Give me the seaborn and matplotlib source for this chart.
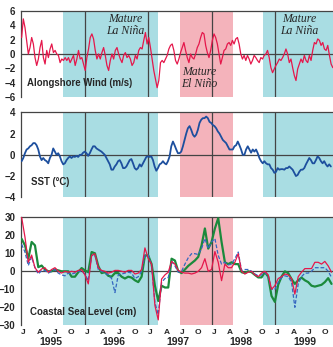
import numpy as np
import pandas as pd
import matplotlib
matplotlib.use("Agg")
import matplotlib.pyplot as plt
import matplotlib.transforms as mtransforms
import seaborn as sns

# alongshore wind (m/s), ~9-day samples, Jan 1995 -> Nov 1999
wind = [2.3, 4.9, 3.7, 1.9, 0.0, 0.9, 2.3, 1.4, -0.5, -1.6,
        -0.7, 0.9, 1.9, -0.5, -1.4, 0.5, -0.5, 0.7, 1.4, 0.2,
        0.5, 0.0, -0.2, -1.2, -0.7, -0.9, -0.5, -0.9, -0.5, -1.2,
        -0.7, -0.2, -1.6, -0.7, 0.5, -0.7, -0.5, -1.4, -2.3, -0.5,
        0.7, 2.3, 2.8, 2.1, 0.5, -0.7, 0.0, -0.7, 0.2, 0.9,
        -0.2, -1.6, -2.3, -0.9, 0.0, -0.7, 0.5, 0.9, 0.0, -0.7,
        -1.2, -0.2, 0.2, -0.5, -0.2, -0.7, -1.6, -1.2, -0.2, -0.7,
        0.5, 0.9, 0.7, 1.9, 3.0, 1.4, 2.3, 0.9, -0.7, -2.3,
        -3.5, -4.7, -3.7,
        -1.2, -0.9, -1.2, -0.7, -0.2, 0.7, 1.2, 1.4, 0.5, -0.9,
        -1.4, -0.7, 0.2, 0.9, 1.6, 0.5, -0.5, -1.2, 0.0, -0.5,
        -0.7, 0.0, 0.9, 1.4, 2.3, 3.0, 2.8, 1.2, 0.2, -0.5,
        0.5, 1.9, 2.8, 2.3, 1.4, 0.0, -1.4, -0.5, 0.5, 0.7,
        1.4, 1.6, 1.2, 1.9, 1.4, 2.1, 2.3, 1.4, 0.0, -0.7,
        -0.2, -0.9, -0.2, -0.7, -1.4, -0.9, -0.2, -0.5, -0.9, -1.2,
        -0.5, -0.7, -0.2, 0.0, 0.5, -0.5, -1.9, -2.6, -2.1, -1.6,
        -1.2, -0.7, -0.9, -0.5, 0.0, 0.7, 0.0, -1.2, -0.7, -1.9,
        -3.0, -3.7, -2.1, -1.4, -0.7, -1.2, -0.2, -0.9, -1.2, -0.2,
        -0.9, 0.5, 1.6, 1.4, 2.1, 1.9, 1.2, 1.6, 0.7, 0.5,
        1.2, -0.2, -1.4, -1.9]

# SST anomaly (deg C)
sst = [-0.6, -0.3, 0.15, 0.5, 0.6, 0.8, 0.9, 1.1, 1.1, 0.9,
       0.5, -0.15, -0.5, -0.3, -0.5, -0.6, -0.8, -0.3, 0.0, 0.6,
       0.3, 0.0, 0.15, -0.15, -0.6, -0.9, -0.8, -0.5, -0.3, -0.15,
       -0.3, -0.15, -0.2, -0.1, -0.2, 0.0, 0.0, 0.2, 0.3, 0.15,
       -0.1, 0.15, 0.5, 0.8, 0.8, 0.6, 0.5, 0.4, 0.3, 0.15,
       0.0, -0.3, -0.6, -0.9, -1.4, -1.4, -1.1, -0.9, -0.6, -0.5,
       -0.8, -1.25, -1.25, -1.1, -0.8, -0.5, -0.4, -0.8, -1.25, -1.4,
       -1.25, -0.9, -1.1, -0.8, -0.5, -0.2, -0.15, -0.2, -0.15, -0.5,
       -1.1, -1.5, -1.25, -0.9, -0.8, -0.6, -0.8, -0.9, -0.6,
       -0.15, 0.8, 1.25, 0.9, 0.5, 0.15, 0.15, 0.3, 0.8, 1.4,
       2.0, 2.5, 2.7, 2.35, 1.9, 1.7, 1.9, 2.35, 3.0, 3.3,
       3.45, 3.45, 3.6, 3.45, 3.1, 3.0, 2.8, 2.7, 2.5, 2.2,
       2.0, 1.7, 1.4, 1.25, 1.1, 0.8, 0.5, 0.5, 0.5, 0.8,
       0.9, 1.25, 0.9, 0.5, 0.0, 0.0, 0.5, 0.8, 0.5, 0.2,
       0.5, 0.3, 0.5, 0.15, -0.3, -0.6, -0.8, -0.6, -0.8, -0.9,
       -0.9, -1.25, -1.4, -1.7, -1.6, -1.25, -1.4, -1.35, -1.35, -1.4,
       -1.25, -1.25, -1.1, -1.25, -1.4, -1.7, -2.0, -1.9, -1.6, -1.4,
       -1.4, -1.25, -0.9, -0.6, -0.3, -0.5, -0.8, -0.8, -0.5, -0.15,
       -0.3, -0.6, -0.8, -0.6, -0.9, -1.1, -0.9, -1.1]

# coastal sea level (cm), three stations
sea_red = [30, 19, 5, 9, 2, -0.5, 1.3, 2, -0.5, 1,
           2, 0, -1, 0, -0.5, 0, -0.5, 0.5, 1, -2,
           -7, 8.8, 9.8, 2, 0.5, 0, -1, -0.5, 0.5, 0.5,
           0, -0.5, 0.5, 0.5, -1.5, -1, 1, 13, 7, 4,
           -19, -27, -4.3, -2, -0.5,
           5.5, 4, 0.5, -0.5, -1, -1, -1.5, -1, 0, 2,
           7, 0, 1, 11, 5, -5.2, 4, 2, 2, 5,
           9.8, 0, -1.5, -0.5, 0, -2, -3, -1, 0, -2,
           -10, -8, -4, -3, -1.5, -2, -4, -12.7, -3, -0.5,
           1.5, 1.5, 1.5, 5, 5, 4, 5.5, 3, -0.5]
sea_blue = [15, 10.7, 3.2, 7.9, 2, -1.5, 0.4, 0.4, -1, 0,
            1, -1, -2, -2.5, -1, -1.5, -1, 0, 0, -1.5,
            -5.2, 8.8, 9, 1, 0, -1, -2, -4, -11.8, -2,
            -1.5, -1, -0.5, -1, -4, -3, 0, 8.8, 9, 3,
            -17.4, -24, -6.2, -4, -3.5,
            5.5, 3, -0.5, 0, 4, 7.5, 9.8, 9.8, 9.3, 12.6,
            18.2, 12.6, 16.3, 18.2, 8.8, 4, 5, 3.6, 4, 7,
            10.7, 0.5, 1, 1, 0, -1.5, -2.5, -2, -0.5, -3,
            -10, -10, -6, -3.5, -2.5, -3, -6, -20, -7, -3,
            -1, -1, 0, 2, 2, 2, 2, 0, -3.4]
sea_green = [18, 14.4, 7, 16.3, 14.4, 2.3, 3.2, 1, 0, 0,
             1, 0.5, 0, 0, 0, -3, -3, -0.5, 1.8, 0.5,
             -0.5, 10.7, 10, 3, -1, -0.5, -2.5, -3, -1, -1,
             -3, -4, -3, -3.5, -5, -6, -3, 8.8, 8.8, 4,
             -8, -16.5, -8, -9, -9,
             7, 6, 0, -1, 1, 3, 4.5, 6, 8, 14.4,
             23.8, 12.6, 16.3, 23.8, 29.5, 16.3, 5, 4, 5, 4,
             4, -0.5, -1, 0, -0.5, -2, -3.4, -3.4, -0.5, -3,
             -13.7, -17, -7.5, -3, 0, -1, -4.3, -7, -5, -3.5,
             -5, -6, -8, -8.5, -8, -7.5, -6, -3.8, -7]

years = [1995, 1996, 1997, 1998, 1999]
month_letters = ["J", "A", "J", "O"]
la_nina_spans = [(1995.66, 1997.16), (1998.81, 2000.2)]
el_nino_span = (1997.50, 1998.34)

wind_df = pd.DataFrame({"t": np.linspace(1995.01, 1999.91, len(wind)), "v": wind})
sst_df = pd.DataFrame({"t": np.linspace(1995.01, 1999.88, len(sst)), "v": sst})
sea_t = np.linspace(1995.01, 1999.89, len(sea_red))
sea_df = pd.DataFrame({"t": sea_t, "red": sea_red, "blue": sea_blue, "green": sea_green})

sns.set_style("white")
plt.rcParams["font.family"] = ["Liberation Sans", "DejaVu Sans"]
plt.rcParams["font.weight"] = "bold"

cyan = "#a9dde3"
pink = "#f4b3bb"
dark = "#444444"

fig = plt.figure(figsize=(3.33, 3.47), dpi=100)
W, H = 333.0, 347.0
left = 21 / W
width = 317.5 / W
ax1 = fig.add_axes([left, 1 - 97 / H, width, 86 / H])
ax2 = fig.add_axes([left, 1 - 197.3 / H, width, 85 / H])
ax3 = fig.add_axes([left, 1 - 325.3 / H, width, 108 / H])

limits = [(-6, 6, 2), (-4, 4, 2), (-30, 30, 10)]
quarter_ticks = [y + q * 0.25 for y in years for q in range(4)]
mid_month = [y + q * 0.25 + 1 / 24 for y in years for q in range(4)]

for ax, (lo, hi, step) in zip([ax1, ax2, ax3], limits):
    for a, b in la_nina_spans:
        ax.axvspan(a, b, color=cyan, lw=0, zorder=0)
    ax.axvspan(*el_nino_span, color=pink, lw=0, zorder=0)
    for y in years[1:]:
        ax.axvline(y, color=dark, lw=0.9, zorder=1)
    ax.axhline(0, color=dark, lw=0.9, zorder=1)
    ax.set_ylim(lo, hi)
    ax.set_yticks(np.arange(lo, hi + 1, step))
    ax.set_xticks(quarter_ticks)
    ax.tick_params(axis="x", which="major", direction="in", length=4,
                   width=0.8, color=dark, labelbottom=False)
    ax.tick_params(axis="y", direction="out", length=3, width=0.8,
                   color=dark, labelsize=7, pad=1)
    for s in ["bottom", "right"]:
        ax.spines[s].set_visible(False)
    for s in ["left", "top"]:
        ax.spines[s].set_color(dark)
        ax.spines[s].set_linewidth(0.9)

sns.lineplot(data=wind_df, x="t", y="v", ax=ax1, color="#e5174b", lw=0.9, zorder=3)
sns.lineplot(data=sst_df, x="t", y="v", ax=ax2, color="#1d4f9e", lw=1.3, zorder=3)
sns.lineplot(data=sea_df, x="t", y="green", ax=ax3, color="#1b8a3c", lw=1.6, zorder=3)
sns.lineplot(data=sea_df, x="t", y="blue", ax=ax3, color="#3566c0", lw=0.9,
             dashes=(3, 1.5), zorder=4)
sns.lineplot(data=sea_df, x="t", y="red", ax=ax3, color="#e5174b", lw=0.9, zorder=5)
for ax in [ax1, ax2, ax3]:
    ax.set_xlabel("")
    ax.set_ylabel("")
    ax.set_xlim(1995.0, 2000.0)

ax3.set_xticks(mid_month, minor=True)
ax3.set_xticklabels(month_letters * len(years), minor=True)
ax3.tick_params(axis="x", which="minor", length=0, pad=2.5, labelsize=6)
trans = mtransforms.blended_transform_factory(ax3.transData, ax3.transAxes)
for y in years:
    ax3.text(y + 0.47, -0.155, str(y), transform=trans, ha="center",
             va="center", fontsize=7.5, fontweight="bold")

ax1.text(1995.09, -4.0, "Alongshore Wind (m/s)", fontsize=6.9, va="center", zorder=6)
ax2.text(1995.16, -2.6, "SST (°C)", fontsize=6.9, va="center", zorder=6)
ax3.text(1995.14, -22.4, "Coastal Sea Level (cm)", fontsize=7.0, va="center", zorder=6)

serif = dict(family=["Liberation Serif", "DejaVu Serif"], style="italic",
             fontweight="normal", fontsize=8.5, ha="center", va="top",
             linespacing=0.95, zorder=6)
ax1.text(1996.64, 5.7, "Mature\nLa Niña", **serif)
ax1.text(1999.39, 5.7, "Mature\nLa Niña", **serif)
ax1.text(1997.80, -1.7, "Mature\nEl Niño", **serif)

fig.savefig("out.png", dpi=100)
